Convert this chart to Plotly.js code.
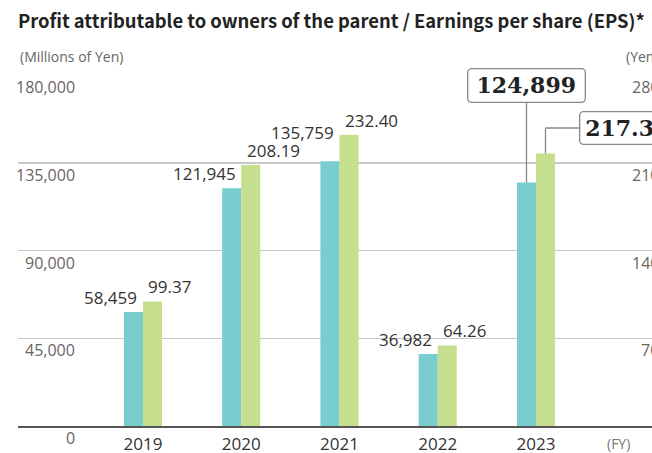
<!DOCTYPE html>
<html>
<head>
<meta charset="utf-8">
<script src="https://cdn.plot.ly/plotly-3.0.1.min.js"></script>
<style>
html,body{margin:0;padding:0;background:#fff;overflow:hidden;}
#chart{width:680px;height:453px;}
</style>
</head>
<body>
<div id="chart"></div>
<script>
const years = ['2019', '2020', '2021', '2022', '2023'];
const profit = [58459, 121945, 135759, 36982, 124899];
const eps = [99.37, 208.19, 232.40, 64.26, 217.36];
const leftTicks = [0, 45000, 90000, 135000, 180000];
const rightTicks = [70, 140, 210, 280];
const titleText = 'Profit attributable to owners of the parent / Earnings per share (EPS)*';
const leftUnit = '(Millions of Yen)';
const rightUnit = '(Yen)';
const xUnit = '(FY)';
const calloutIndex = 4;

const BLUE = '#79cdcf';
const GREEN = '#c5df8f';
const sans = 'Open Sans, Noto Sans, sans-serif';
const serif = 'DejaVu Serif, serif';
const titleFamily = 'Noto Sans CJK JP';

// size the title so that it spans the same width as in the reference (about 627 px)
const titleTargetWidth = 627;
const ctx = document.createElement('canvas').getContext('2d');
ctx.font = 'bold 20px "' + titleFamily + '", "Open Sans"';
const titleSize = Math.min(22, 20 * titleTargetWidth / ctx.measureText(titleText).width);

const fmtProfit = v => v.toLocaleString('en-US');
const fmtEps = v => v.toFixed(2);

// plot area: 351 px tall from the 0 line to the 180,000 line, plus 1 px headroom
const headroom = 352 / 351;
// extra lift (px) for profit labels that would collide with a neighbouring label
const profitLabelLift = {2: 14};

const traces = [
  {type: 'bar', x: years, y: profit, yaxis: 'y', marker: {color: BLUE},
   width: 0.194, offset: -0.194, hoverinfo: 'skip'},
  {type: 'bar', x: years, y: eps, yaxis: 'y2', marker: {color: GREEN},
   width: 0.194, offset: 0, hoverinfo: 'skip'}
];

const annotations = [];
const labelFont = {family: sans, size: 17, color: '#333'};
years.forEach((yr, i) => {
  if (i === calloutIndex) return;
  annotations.push({x: i, y: profit[i], xref: 'x', yref: 'y', text: fmtProfit(profit[i]),
    showarrow: false, xanchor: 'right', yanchor: 'bottom', xshift: -3.5, yshift: 1 + (profitLabelLift[i] || 0),
    font: labelFont});
  annotations.push({x: i, y: eps[i], xref: 'x', yref: 'y2', text: fmtEps(eps[i]),
    showarrow: false, xanchor: 'left', yanchor: 'bottom', xshift: 3.5, yshift: 1, font: labelFont});
});

const tickFont = {family: sans, size: 16, color: '#666'};
leftTicks.forEach(v => {
  annotations.push({x: 59 / 652, xref: 'paper', y: v, yref: 'y', text: fmtProfit(v), showarrow: false,
    xanchor: 'right', yanchor: 'top', yshift: 1, font: tickFont});
});
rightTicks.forEach(v => {
  annotations.push({x: 643 / 652, xref: 'paper', y: v, yref: 'y2', text: String(v), showarrow: false,
    xanchor: 'right', yanchor: 'top', yshift: 1, font: tickFont});
});

annotations.push({x: 0, xref: 'paper', y: 1, yref: 'paper', text: leftUnit, showarrow: false,
  xanchor: 'left', yanchor: 'bottom', yshift: 6, font: {family: sans, size: 14, color: '#666'}});
annotations.push({x: 643 / 652, xref: 'paper', y: 1, yref: 'paper', text: rightUnit, showarrow: false,
  xanchor: 'right', yanchor: 'bottom', yshift: 6, font: {family: sans, size: 14, color: '#666'}});
annotations.push({x: 600 / 652, xref: 'paper', y: 0, yref: 'paper', text: xUnit, showarrow: false,
  xanchor: 'center', yanchor: 'top', yshift: -6, font: {family: sans, size: 14, color: '#777'}});

const boxFont = {family: serif, size: 22, weight: 'bold', color: '#222'};
annotations.push({x: calloutIndex, y: profit[calloutIndex], xref: 'x', yref: 'y', xshift: -9.5,
  text: fmtProfit(profit[calloutIndex]), showarrow: true, arrowhead: 0, arrowwidth: 1.3, arrowcolor: '#888',
  ax: 0, ay: -97, standoff: 0, font: boxFont, bgcolor: '#fff', bordercolor: '#888', borderwidth: 1.3,
  borderpad: 3, width: 110, height: 26});
annotations.push({x: calloutIndex, y: eps[calloutIndex], xref: 'x', yref: 'y2', xshift: 9.5,
  text: ' ', showarrow: true, arrowhead: 0, arrowwidth: 1.3, arrowcolor: '#888',
  ax: 0, ay: -26, standoff: 0, font: {size: 1}, borderpad: 0});
annotations.push({x: calloutIndex, y: eps[calloutIndex], xref: 'x', yref: 'y2', xshift: 9.5, yshift: 25.5,
  text: fmtEps(eps[calloutIndex]), showarrow: true, arrowhead: 0, arrowwidth: 1.3, arrowcolor: '#888',
  ax: 82.5, ay: 0, standoff: 0, font: boxFont, bgcolor: '#fff', bordercolor: '#888', borderwidth: 1.3,
  borderpad: 3, width: 88, height: 25});

const layout = {
  width: 680, height: 453,
  margin: {l: 18, r: 10, t: 74, b: 27},
  paper_bgcolor: '#fff', plot_bgcolor: '#fff',
  showlegend: false,
  title: {text: titleText, xref: 'container', x: 18 / 680, xanchor: 'left',
    yref: 'container', y: 1 - 22 / 453, yanchor: 'middle',
    font: {family: titleFamily + ', Open Sans, sans-serif', size: titleSize, weight: 'bold', color: '#222'}},
  xaxis: {type: 'category', range: [-1.272, 5.364], showline: true, linecolor: '#555', linewidth: 1.5,
    ticks: '', showgrid: false, zeroline: false, fixedrange: true, ticklabelstandoff: 2,
    tickfont: {family: sans, size: 17, color: '#333'}},
  yaxis: {range: [0, 180000 * headroom], tickvals: leftTicks, showticklabels: false, showgrid: true,
    gridcolor: '#c8c8c8', gridwidth: 1.5, zeroline: false, ticks: '', fixedrange: true},
  yaxis2: {range: [0, 280 * headroom], overlaying: 'y', side: 'right', showticklabels: false, showgrid: false,
    zeroline: false, ticks: '', fixedrange: true},
  annotations: annotations
};

Plotly.newPlot('chart', traces, layout, {displayModeBar: false, staticPlot: true}).then(gd => {
  // rounded corners on the two callout boxes
  gd.querySelectorAll('.annotation rect.bg').forEach(r => {
    if (parseFloat(r.getAttribute('width')) > 80) { r.setAttribute('rx', 4); r.setAttribute('ry', 4); }
  });
});
</script>
</body>
</html>
